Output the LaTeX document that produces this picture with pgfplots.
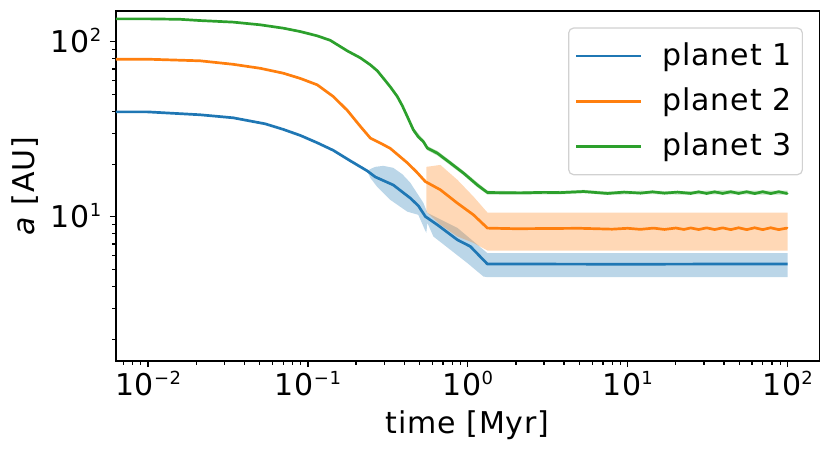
\documentclass[border=0pt]{standalone}
\usepackage{fontspec}
\setmainfont{DejaVu Sans}[LetterSpace=3]
\usepackage{pgfplots}
\pgfplotsset{compat=1.18}
\definecolor{c0}{HTML}{1F77B4}
\definecolor{c1}{HTML}{FF7F0E}
\definecolor{c2}{HTML}{2CA02C}
\newcommand{\fsz}{\fontsize{15pt}{18pt}\selectfont}
\newcommand{\tsup}[1]{\raisebox{5.5pt}{\fontsize{9pt}{10pt}\selectfont #1}}
\begin{document}
\fsz
\begin{tikzpicture}
\useasboundingbox (-58pt,-45.5pt) rectangle (357.5pt,180.5pt);
\begin{axis}[
  at={(0,0)}, anchor=south west,
  scale only axis, width=351.65pt, height=175pt,
  xmode=log, ymode=log,
  xmin=0.0063, xmax=158, ymin=1.5, ymax=150,
  xtick={0.01,0.1,1,10,100},
  xticklabels={10\tsup{−2},10\tsup{−1},10\tsup{0},10\tsup{1},10\tsup{2}},
  minor xtick={0.007,0.008,0.009,0.02,0.03,0.04,0.05,0.06,0.07,0.08,0.09,0.2,0.3,0.4,0.5,0.6,0.7,0.8,0.9,2,3,4,5,6,7,8,9,20,30,40,50,60,70,80,90},
  ytick={10,100},
  yticklabels={10\tsup{1},10\tsup{2}},
  minor ytick={2,3,4,5,6,7,8,9,20,30,40,50,60,70,80,90},
  tick label style={font=\fsz},
  xticklabel style={anchor=north, inner sep=0pt, yshift=-1.9pt},
  yticklabel style={anchor=base east, inner sep=0pt, xshift=-4.15pt, yshift=-5.47pt},
  xlabel={time [Myr]}, ylabel={\textit{a} [AU]},
  label style={font=\fsz},
  xlabel style={at={(axis description cs:0.5,0)}, anchor=base, yshift=-36.2pt},
  ylabel style={at={(axis description cs:-0.1294,0.5)}, anchor=center},
  major tick length=3pt, minor tick length=1.8pt,
  tick style={black, line width=0.6pt},
  tick align=outside, tick pos=left,
  axis line style={line width=0.7pt},
  legend style={at={(axis description cs:1,1)}, anchor=north east, xshift=-8.15pt, yshift=-8.2pt,
    draw=black!18, line width=0.6pt, rounded corners=2.5pt, fill=white, fill opacity=0.8, text opacity=1,
    font=\fsz, inner xsep=3pt, inner ysep=4.6pt, row sep=4.1pt,
    nodes={inner sep=2.5pt},
    /tikz/every odd column/.append style={column sep=7.5pt}},
  legend cell align=left,
  legend image code/.code={\draw[#1, line width=1.35pt] (0pt,0pt) -- (32.5pt,0pt);},
]
% bands
\addplot[draw=none, fill=c0, fill opacity=0.3, forget plot] coordinates {
(0.235,18.3) (0.25,18.9) (0.2638,19.3) (0.2961,19.56) (0.342,19.05) (0.39,17.5) (0.437,15.65) (0.5273,12.02) (0.5585,10.54) (0.8608,8.65) (1.327,6.20) (100,6.20)
(100,4.52) (1.327,4.52) (1.252,4.56) (0.994,5.44) (0.609,7.72) (0.5585,9.24) (0.55,8.1) (0.5427,8.3) (0.49,10.27) (0.4185,10.7) (0.3275,12.5) (0.27,14.9) (0.2455,16.7)
} -- cycle;
\addplot[draw=none, fill=c1, fill opacity=0.3, forget plot] coordinates {
(0.5504,19.3) (0.6737,19.8) (0.8608,16.27) (1.084,13.06) (1.327,10.58) (100,10.58)
(100,6.42) (1.327,6.42) (1.084,7.10) (0.8608,7.72) (0.6737,9.0) (0.5504,10.68)
} -- cycle;
\addplot[draw=none, fill=c2, fill opacity=0.3, forget plot] coordinates {
(0.4185,38.5) (0.4565,32.3) (0.5273,27.7) (0.5585,25.4) (0.6451,23.8) (0.778,20.9) (0.9385,18.3) (1.148,15.7) (1.327,14.1) (2.135,14.0) (3.80,14.05) (5.30,14.25) (7.48,13.95) (12.04,14.1) (21.45,14.0) (38.2,14.15) (67.96,14.1) (100,14.1)
(100,13.4) (67.96,13.4) (38.2,13.45) (21.45,13.4) (12.04,13.5) (7.48,13.35) (5.30,13.65) (3.80,13.45) (2.135,13.4) (1.327,13.4) (1.148,14.75) (0.9385,17.3) (0.778,19.7) (0.6451,22.4) (0.5585,24.0) (0.5273,26.1) (0.4565,30.5) (0.4185,36.3)
} -- cycle;
% lines
\addplot[c0, line width=1.35pt, line join=round] coordinates {
(0.0063,39.8) (0.00986,39.8) (0.02117,38.3) (0.03405,36.8) (0.05401,34.0) (0.07004,31.6) (0.08948,29.2) (0.1143,26.5) (0.1440,23.99) (0.1840,20.9) (0.2351,18.3) (0.2638,16.9) (0.3420,15.2) (0.4370,12.79) (0.4906,11.56) (0.5427,10.04) (0.6451,9.0) (0.8608,7.39) (1.038,6.77) (1.165,6.07) (1.327,5.37) (3,5.37) (10,5.36) (30,5.37) (100,5.37)
};
\addlegendentry{planet 1}
\addplot[c1, line width=1.35pt, line join=round] coordinates {
(0.0063,79.6) (0.00986,79.6) (0.02117,77.9) (0.03405,74.4) (0.05028,70.6) (0.07004,66.2) (0.08948,61.8) (0.1143,56.8) (0.1440,48.7) (0.1762,40.6) (0.2126,32.9) (0.2455,28.2) (0.2836,26.4) (0.3275,24.6) (0.4185,20.35) (0.4768,18.1) (0.5427,15.9) (0.6737,14.27) (0.8608,11.97) (1.084,10.27) (1.327,8.62) (2,8.55) (5,8.6) (8,8.5) (10,8.6) (12,8.48) (14.5,8.62) (17,8.47) (20,8.63) (22.5,8.47)
(24.76,8.64) (27.79,8.46) (31.19,8.65) (35.0,8.46) (39.3,8.65) (44.1,8.45) (49.5,8.66) (55.5,8.45) (62.3,8.66) (69.9,8.45) (78.5,8.66) (88.1,8.45) (98.9,8.62) (100,8.55)
};
\addlegendentry{planet 2}
\addplot[c2, line width=1.35pt, line join=round] coordinates {
(0.0063,135.3) (0.00986,135.3) (0.01586,134.5) (0.02117,132.3) (0.03405,129.6) (0.05028,125.1) (0.07004,119.7) (0.08948,114.5) (0.1143,108.2) (0.1379,102.0) (0.1762,88.8) (0.2126,81.0) (0.2455,73.9) (0.2716,68.3) (0.2961,62.0) (0.3275,55.3) (0.3623,48.7) (0.3895,43.1) (0.4185,37.4) (0.4565,31.4) (0.4906,28.6) (0.5273,26.9) (0.5585,24.7) (0.6451,23.1) (0.7780,20.3) (0.9385,17.8) (1.148,15.2) (1.327,13.77) (2.135,13.7) (3.0,13.8) (3.80,13.75) (5.30,13.95) (7.48,13.6) (9.5,13.85) (12.04,13.65) (14.3,13.9) (17,13.65) (20.5,13.85)
(24.76,13.6) (27.79,13.9) (31.19,13.6) (35.0,13.9) (39.3,13.6) (44.1,13.92) (49.5,13.6) (55.5,13.92) (62.3,13.58) (69.9,13.92) (78.5,13.58) (88.1,13.92) (98.9,13.6) (100,13.75)
};
\addlegendentry{planet 3}
\end{axis}
\end{tikzpicture}
\end{document}
